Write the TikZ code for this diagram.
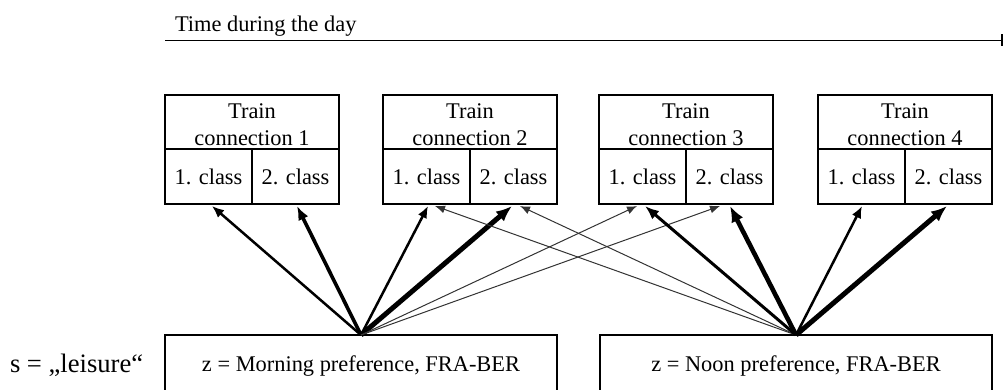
\documentclass[tikz,border=0pt]{standalone}
\usepackage{fontspec}
\setmainfont{Liberation Serif}
\usetikzlibrary{arrows.meta,calc}
\begin{document}
\begin{tikzpicture}[x=1pt,y=-1pt,
  every node/.style={font=\fontsize{22.4}{26.7}\selectfont, inner sep=0pt, outer sep=0pt},
  frame/.style={draw, line width=1.7pt},
  hdr/.style={frame, minimum width=174pt, minimum height=54pt},
  cellbox/.style={frame, minimum width=87pt, minimum height=55pt},
  wthin/.style={line width=1pt, draw=black!80, -{Latex[length=10pt,width=8pt]}},
  wmed/.style={line width=2.5pt, -{Latex[length=12pt,width=10pt]}},
  wthick/.style={line width=3.6pt, -{Latex[length=14pt,width=11pt]}},
  wheavy/.style={line width=5pt, -{Latex[length=16pt,width=13pt]}},
]
\useasboundingbox (0,0) rectangle (1003,389);
\clip (0,0) rectangle (1003,389);

% time axis
\node[anchor=base west] (title) at (175,31.5) {Time during the day};
\coordinate (ax0) at (165,40);
\coordinate (ax1) at (1002.5,40);
\draw[line width=1pt, -{Bar[width=12pt,line width=2pt]}] (ax0) -- (ax1);

% train connections with their two classes
\foreach \i/\x in {1/252,2/470,3/686,4/905}{
  \node[hdr] (h\i) at (\x,122) {};
  \node[anchor=base] (ht\i) at (\x,118) {Train};
  \node[anchor=base] (hc\i) at (\x,145) {connection \i};
  \node[cellbox] (a\i) at (\x-43.5,176.5) {1. class};
  \node[cellbox] (b\i) at (\x+43.5,176.5) {2. class};
}

% customer segments
\node[anchor=base west, font=\fontsize{26.6}{30}\selectfont] (seg) at (10,372) {s = „leisure“};
\node[frame, minimum width=392pt, minimum height=100pt, anchor=north] (m) at (361,335) {};
\node[anchor=base] (mt) at (361,371.5) {z = Morning preference, FRA-BER};
\node[frame, minimum width=392pt, minimum height=100pt, anchor=north] (n) at (796,335) {};
\node[anchor=base] (nt) at (796,371.5) {z = Noon preference, FRA-BER};

% choice probabilities, morning preference
\draw[wmed]   (m.north) -- ($(a1.south)+(3.5,2)$);
\draw[wthick] (m.north) -- ($(b1.south)+(1.5,2)$);
\draw[wmed]   (m.north) -- ($(a2.south)+(1.5,2)$);
\draw[wheavy] (m.north) -- ($(b2.south)+(-1.5,2)$);
\draw[wthin]  (m.north) -- ($(a3.south)+(-5.5,2)$);
\draw[wthin]  (m.north) -- ($(b3.south)+(-9.5,2)$);

% choice probabilities, noon preference
\draw[wthin]  (n.north) -- ($(a2.south)+(8.5,2)$);
\draw[wthin]  (n.north) -- ($(b2.south)+(6.5,2)$);
\draw[wthick, line width=3pt] (n.north) -- ($(a3.south)+(2.5,2)$);
\draw[wheavy, line width=4.6pt] (n.north) -- ($(b3.south)+(0.5,2)$);
\draw[wmed]   (n.north) -- ($(a4.south)+(0.5,2)$);
\draw[wheavy] (n.north) -- ($(b4.south)+(-1.5,2)$);
\end{tikzpicture}
\end{document}
